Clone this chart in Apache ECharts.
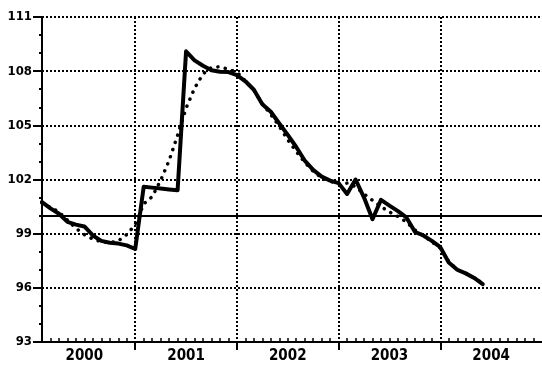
<!DOCTYPE html>
<html>
<head>
<meta charset="utf-8">
<script src="https://cdn.jsdelivr.net/npm/echarts@6/dist/echarts.min.js"></script>
<style>
html,body{margin:0;padding:0;background:#fff;}
#chart{width:542px;height:376px;}
</style>
</head>
<body>
<div id="chart"></div>
<script>
// month index (1 = Feb 2000 start of axis, 12 = start of 2001, ...)
var months = [1,2,3,4,5,6,7,8,9,10,11,12,13,14,15,16,17,18,19,20,21,22,23,24,25,26,27,28,29,30,31,32,33,34,35,36,37,38,39,40,41,42,43,44,45,46,47,48,49,50,51,52,53];
var solidValues = [100.75,100.4,100.1,99.65,99.5,99.4,98.9,98.6,98.5,98.45,98.35,98.15,
  101.6,101.55,101.5,101.45,101.4,109.1,108.6,108.3,108.05,107.97,107.95,107.78,
  107.44,106.97,106.17,105.75,105.1,104.47,103.8,103.05,102.53,102.16,101.94,101.8,
  101.2,102.0,101.0,99.8,100.87,100.55,100.25,99.9,99.1,98.9,98.6,98.25,
  97.4,97.0,96.8,96.55,96.2];
var dottedValues = [100.7,100.45,100.2,99.75,99.3,98.95,98.7,98.55,98.5,98.6,98.95,99.5,
  100.65,101.05,101.95,103.05,104.45,105.95,107.05,107.85,108.2,108.25,108.1,107.95,
  107.45,106.95,106.2,105.6,104.95,104.2,103.55,102.95,102.45,102.1,101.9,101.75,
  101.8,101.6,101.2,100.85,100.5,100.2,99.95,99.65,99.2,98.9,98.55,98.2,
  97.45,97.0,96.8,96.55,96.25];
var yearLabels = ['2000','2001','2002','2003','2004'];
var yearBoundaries = [12,24,36,48];
var yearCentres = [6,18,30,42,54];
var monthTicks = [2,3,4,5,6,7,8,9,10,11,13,14,15,16,17,18,19,20,21,22,23,25,26,27,28,29,30,31,32,33,34,35,37,38,39,40,41,42,43,44,45,46,47,49,50,51,52,53,54,55,56,57,58,59];
var yTicks = {min:93, max:111, interval:3};
var referenceLevel = 100;

var FONT = "'Liberation Sans Narrow','DejaVu Sans Condensed',sans-serif";
function pairs(xs, ys){ return xs.map(function(x,i){ return [x, ys[i]]; }); }

var chart = echarts.init(document.getElementById('chart'), null, {renderer:'canvas'});
chart.setOption({
  animation:false,
  backgroundColor:'#fff',
  grid:{left:42, right:0, top:17, bottom:34, containLabel:false},
  xAxis:[{
    type:'value', min:1, max:60, position:'bottom',
    axisLine:{show:true, lineStyle:{color:'#000', width:2}},
    axisTick:{show:true, inside:true, length:4, customValues:monthTicks, lineStyle:{color:'#000', width:1.5}},
    axisLabel:{show:false},
    splitLine:{show:false}
  },{
    type:'value', min:1, max:60, position:'bottom',
    axisLine:{show:false},
    axisTick:{show:true, inside:false, length:8, customValues:yearBoundaries, lineStyle:{color:'#000', width:2}},
    axisLabel:{show:true, customValues:yearCentres, margin:7, color:'#000', fontFamily:FONT, fontWeight:'bold', fontSize:15,
      formatter:function(v){ var i = yearCentres.indexOf(v); return i>=0 ? yearLabels[i] : ''; }},
    splitLine:{show:true, lineStyle:{color:'#000', width:2, type:[2,2]}}
  }],
  yAxis:{
    type:'value', min:yTicks.min, max:yTicks.max, interval:yTicks.interval,
    axisLine:{show:true, lineStyle:{color:'#000', width:2}},
    axisTick:{show:true, inside:false, length:9, lineStyle:{color:'#000', width:2}},
    minorTick:{show:true, splitNumber:3, length:3, lineStyle:{color:'#000', width:2}},
    axisLabel:{margin:10, color:'#000', fontFamily:FONT, fontWeight:'bold', fontSize:13},
    splitLine:{show:true, lineStyle:{color:'#000', width:2, type:[2,2]}}
  },
  series:[{
    type:'line', data:pairs(months, dottedValues), xAxisIndex:0, showSymbol:false, symbol:'none',
    lineStyle:{color:'#000', width:3.5, type:[0.1,7.5], cap:'round'}, z:3
  },{
    type:'line', data:pairs(months, solidValues), xAxisIndex:0, showSymbol:false, symbol:'none',
    lineStyle:{color:'#000', width:4, cap:'round', join:'round'}, z:4,
    markLine:{silent:true, symbol:'none', label:{show:false},
      lineStyle:{color:'#000', width:2, type:'solid'},
      data:[{yAxis:referenceLevel}]}
  }]
});
</script>
</body>
</html>
